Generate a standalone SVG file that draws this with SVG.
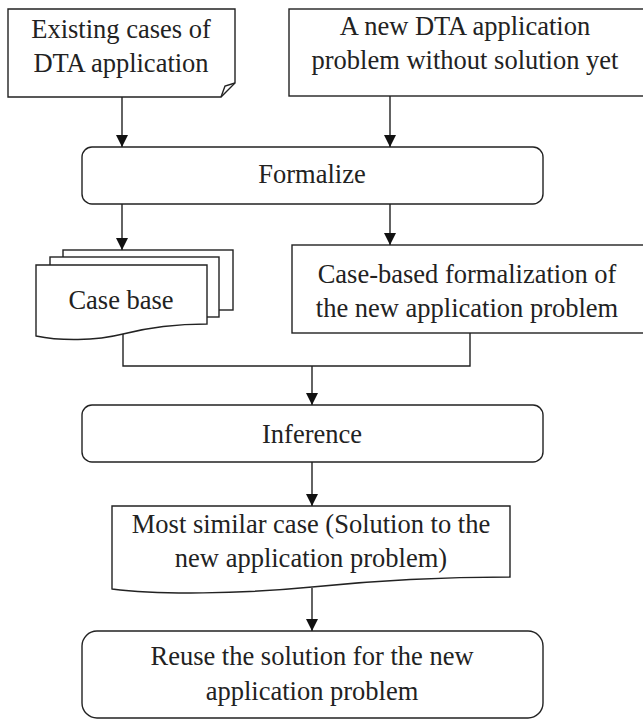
<svg xmlns="http://www.w3.org/2000/svg" width="643" height="720" viewBox="0 0 643 720">
<style>
.s{fill:#fff;stroke:#222;stroke-width:1.4}
.c{fill:none;stroke:#222;stroke-width:1.4}
.t{font-family:"Liberation Serif","Times New Roman",Times,Tinos,"DejaVu Serif","Noto Serif","FreeSerif","Nimbus Roman","Nimbus Roman No9 L",serif;font-size:26.5px;fill:#222;text-anchor:middle}
</style>
<defs>
<marker id="a" markerUnits="userSpaceOnUse" markerWidth="14" markerHeight="14" viewBox="0 0 14 14" refX="12" refY="7" orient="auto">
<path d="M0,1 L12,7 L0,13 Z" fill="#111"/>
</marker>
</defs>
<rect width="643" height="720" fill="#fff"/>
<g id="existing">
<path class="s" d="M8,9 H235 V83 L221,97 H8 Z"/>
<path class="c" d="M221,97 L225,86 L235,83"/>
<text class="t" x="121" y="38">Existing cases of</text>
<text class="t" x="121" y="72">DTA application</text>
</g>
<g id="newproblem">
<rect class="s" x="289" y="9" width="355" height="87"/>
<text class="t" x="465" y="35">A new DTA application</text>
<text class="t" x="465" y="69">problem without solution yet</text>
</g>
<g id="formalize">
<rect class="s" x="82" y="147" width="461" height="57" rx="10"/>
<text class="t" x="312" y="183">Formalize</text>
</g>
<g id="casebase">
<rect class="s" x="63" y="250" width="170" height="60"/>
<rect class="s" x="50" y="257" width="169" height="60"/>
<path class="s" d="M36,265 H207 V324 C180,324 150,327 123,334 C95,341 60,341 36,336 Z"/>
<text class="t" x="121" y="309">Case base</text>
</g>
<g id="formalization">
<rect class="s" x="292" y="245" width="352" height="88"/>
<text class="t" x="467" y="283">Case-based formalization of</text>
<text class="t" x="467" y="317">the new application problem</text>
</g>
<g id="inference">
<rect class="s" x="82" y="405" width="461" height="57" rx="10"/>
<text class="t" x="312" y="443">Inference</text>
</g>
<g id="similar">
<path class="s" d="M112,506 H510 V577 C440,577 380,580 312,587 C240,594 160,595 112,589 Z"/>
<text class="t" x="311" y="533">Most similar case (Solution to the</text>
<text class="t" x="311" y="567">new application problem)</text>
</g>
<g id="reuse">
<rect class="s" x="82" y="631" width="461" height="87" rx="15"/>
<text class="t" x="312" y="665">Reuse the solution for the new</text>
<text class="t" x="312" y="700">application problem</text>
</g>
<g id="connectors">
<path class="c" d="M122,97 V147" marker-end="url(#a)"/>
<path class="c" d="M390,96 V147" marker-end="url(#a)"/>
<path class="c" d="M122,204 V250" marker-end="url(#a)"/>
<path class="c" d="M390,204 V245" marker-end="url(#a)"/>
<path class="c" d="M123,334 V366 H470 V333"/>
<path class="c" d="M312,366 V405" marker-end="url(#a)"/>
<path class="c" d="M312,462 V506" marker-end="url(#a)"/>
<path class="c" d="M312,588 V631" marker-end="url(#a)"/>
</g>
</svg>
